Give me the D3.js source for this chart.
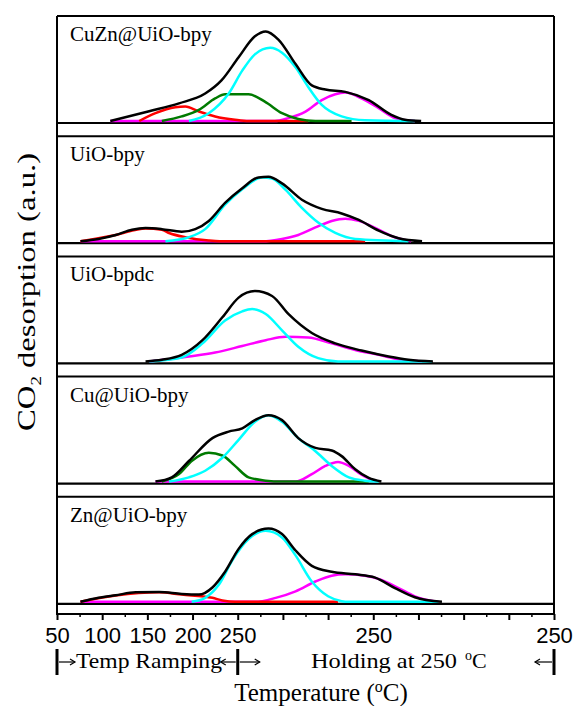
<!DOCTYPE html>
<html>
<head>
<meta charset="utf-8">
<script src="https://cdn.jsdelivr.net/npm/d3@7"></script>
<style>
  body { margin: 0; background: #fff; }
  svg { display: block; }
</style>
</head>
<body>
<svg id="chart" width="578" height="706"></svg>
<script>
// sample names, top to bottom
const samples = ["CuZn@UiO-bpy", "UiO-bpy", "UiO-bpdc", "Cu@UiO-bpy", "Zn@UiO-bpy"];

// x axis ticks (scale position) and labels
const majorTicks = [50, 100, 150, 200, 250, 300, 350, 400, 450, 500, 550, 600];
const majorLabels = ["50", "100", "150", "200", "250", "", "", "250", "", "", "", "250"];
const minorTicks = [75, 125, 175, 225, 275, 325, 375, 425, 475, 525, 575];

// CuZn@UiO-bpy
const cuznTotal = [[109,0],[152,9.4],[185,17],[214,26.4],[232,39],[251,61.3],[269,81.4],[281,86.1],[295,78.3],[314,54.7],[332,34.2],[347,30.2],[369,28],[395,20.1],[420,5.9],[435,1.2],[453,0]];
const cuznRed = [[141,0],[159,7.5],[181,13.2],[192,13.9],[207,9.1],[225,4.4],[247,1.2],[262,0],[328,0]];
const cuznGreen = [[166,0],[188,4.4],[207,10.7],[225,21.7],[236,25.7],[262,25.7],[280,18.6],[299,7.5],[317,1.9],[336,0],[376,0]];
const cuznCyan = [[196,0],[218,7.5],[240,26.4],[255,48.4],[269,64.1],[286,70.4],[299,65.7],[314,51.6],[328,32.7],[343,15.4],[365,4.4],[391,0.7],[446,0]];
const cuznMagenta = [[109,0],[291,0],[306,2.8],[325,9.1],[343,20.1],[358,25.7],[369,27.3],[387,21.7],[406,12.3],[424,2.8],[446,0]];

// UiO-bpy
const bpyTotal = [[76,0],[96,2.2],[115,6],[133,11],[148,12.6],[166,11.6],[188,9.1],[203,11.6],[218,19.5],[236,36.8],[255,50.9],[273,61.3],[284,61.9],[299,55.6],[321,39.9],[343,31.1],[365,26.7],[384,20.4],[406,10.1],[428,2.8],[454,0]];
const bpyRed = [[76,0],[115,6],[148,12.3],[166,11],[174,7.9],[192,3.8],[218,0.6],[230,0],[391,0]];
const bpyCyan = [[170,0],[196,3.8],[214,11.6],[236,35.2],[255,50],[277,61.3],[288,60.3],[303,49.3],[321,32],[339,17.9],[358,7.9],[380,2.2],[439,0]];
const bpyMagenta = [[76,0],[277,0],[299,2.2],[317,6],[336,13.2],[354,19.5],[369,21.7],[384,19.5],[406,11],[424,3.8],[442,0]];

// UiO-bpdc
const bpdcTotal = [[148,0],[166,1.6],[188,6.3],[211,20.4],[233,42.4],[251,61.3],[269,67.6],[288,62.9],[306,45.6],[332,27.3],[358,17.3],[387,10.4],[417,4.7],[439,1.6],[466,0]];
const bpdcCyan = [[152,0],[188,3.8],[211,17.3],[236,39.3],[255,48.1],[266,50.3],[281,45.6],[299,29.9],[317,14.1],[339,3.1],[361,0],[465,0]];
const bpdcMagenta = [[152,0],[196,4.7],[225,8.5],[255,14.8],[281,20.4],[303,23.6],[328,22.9],[354,17.3],[380,11],[406,6.3],[431,1.6],[454,0]];

// Cu@UiO-bpy
const cuTotal = [[159,0],[177,4.1],[196,19.8],[222,41.8],[240,48.1],[255,51.2],[269,59.1],[284,63.8],[299,59.1],[317,41.8],[336,32.4],[354,29.9],[365,24.5],[380,11.9],[395,3.5],[409,0]];
const cuGreen = [[166,0],[185,7.2],[199,19.8],[218,27.7],[233,25.1],[247,15.1],[262,4.1],[281,0.9],[299,0],[395,0]];
const cuCyan = [[174,0],[196,4.1],[214,10.4],[233,22.9],[251,40.2],[269,57.5],[284,63.8],[299,57.5],[317,41.8],[336,29.2],[354,15.1],[373,4.1],[391,0.9],[406,0]];
const cuMagenta = [[159,0],[314,0],[332,7.2],[347,15.1],[361,18.9],[373,15.1],[387,6.6],[402,0]];

// Zn@UiO-bpy
const znTotal = [[76,0],[96,3.8],[115,6.3],[137,9.1],[163,9.4],[188,7.5],[207,6.9],[222,13.8],[236,28.9],[251,50.9],[266,65.1],[284,70.4],[299,65.1],[314,49.3],[332,34.6],[354,28.9],[380,26.4],[402,23.3],[424,13.2],[446,4.4],[476,0]];
const znRed = [[76,0],[115,6],[163,9.1],[188,6.9],[222,3.8],[233,1.3],[247,0],[361,0]];
const znCyan = [[199,0],[214,3.8],[229,16.3],[244,39.9],[262,60.3],[281,68.2],[299,61.9],[314,44.6],[332,19.5],[350,5.3],[365,0.6],[373,0],[472,0]];
const znMagenta = [[76,0],[269,0],[292,3.8],[314,10.1],[336,19.5],[354,25.1],[369,26.4],[391,25.1],[409,21.1],[428,13.2],[446,5.3],[472,0]];

const colors = { total: "#000000", red: "#ff0000", green: "#007a00", cyan: "#00ffff", magenta: "#ff00ff" };

// draw order: components first, total on top
const panelSeries = [
  [["magenta", cuznMagenta], ["red", cuznRed], ["green", cuznGreen], ["cyan", cuznCyan], ["total", cuznTotal]],
  [["magenta", bpyMagenta], ["red", bpyRed], ["cyan", bpyCyan], ["total", bpyTotal]],
  [["magenta", bpdcMagenta], ["cyan", bpdcCyan], ["total", bpdcTotal]],
  [["magenta", cuMagenta], ["green", cuGreen], ["cyan", cuCyan], ["total", cuTotal]],
  [["magenta", znMagenta], ["red", znRed], ["cyan", znCyan], ["total", znTotal]]
];

const svg = d3.select("#chart");
const frameL = 57, frameR = 554, frameT = 16, axisY = 614;
const firstBase = 123, step = 120.2, panelH = 107, plotH = 104;

const x = d3.scaleLinear().domain([50, 600]).range([frameL, frameR]);

// outer frame sides and bottom axis line
svg.append("line").attr("x1", frameL).attr("x2", frameL).attr("y1", frameT).attr("y2", axisY)
  .attr("stroke", "#000").attr("stroke-width", 2);
svg.append("line").attr("x1", frameR).attr("x2", frameR).attr("y1", frameT).attr("y2", axisY)
  .attr("stroke", "#000").attr("stroke-width", 2);
svg.append("line").attr("x1", frameL - 1).attr("x2", frameR + 1).attr("y1", axisY).attr("y2", axisY)
  .attr("stroke", "#000").attr("stroke-width", 2);

samples.forEach((name, i) => {
  const base = firstBase + i * step;
  // curves sit just on top of the panel's bottom border
  const y = d3.scaleLinear().domain([0, 100]).range([base - 2, base - 2 - plotH]);
  const g = svg.append("g");

  // panel border lines
  g.append("line")
    .attr("x1", frameL).attr("x2", frameR)
    .attr("y1", base).attr("y2", base)
    .attr("stroke", "#000").attr("stroke-width", 2.2);
  g.append("line")
    .attr("x1", frameL).attr("x2", frameR)
    .attr("y1", base - panelH).attr("y2", base - panelH)
    .attr("stroke", "#000").attr("stroke-width", 2);

  const line = d3.line()
    .x(d => x(d[0]))
    .y(d => y(d[1]))
    .curve(d3.curveMonotoneX);

  panelSeries[i].forEach(([key, pts]) => {
    g.append("path")
      .attr("d", line(pts))
      .attr("fill", "none")
      .attr("stroke", colors[key])
      .attr("stroke-width", 2.5)
      .attr("stroke-linejoin", "round");
  });

  g.append("text")
    .attr("x", frameL + 13)
    .attr("y", base - panelH + 25)
    .attr("font-family", "Liberation Serif, serif")
    .attr("font-size", 21)
    .text(name);
});

// x axis
const xAxis = svg.append("g")
  .attr("transform", `translate(0,${axisY})`)
  .call(d3.axisBottom(x).tickValues(majorTicks).tickFormat((d, i) => majorLabels[i]).tickSize(6).tickPadding(7));
xAxis.select(".domain").remove();
xAxis.selectAll(".tick line").attr("stroke", "#000").attr("stroke-width", 2);
xAxis.selectAll(".tick text")
  .attr("font-family", "Liberation Sans, Arial, sans-serif")
  .attr("font-size", 22)
  .attr("fill", "#000");

const xMinor = svg.append("g")
  .attr("transform", `translate(0,${axisY})`)
  .call(d3.axisBottom(x).tickValues(minorTicks).tickFormat("").tickSize(3));
xMinor.select(".domain").remove();
xMinor.selectAll(".tick line").attr("stroke", "#000").attr("stroke-width", 1.5);

// ramping / holding annotation
const annY = 662;
const ann = svg.append("g");
[50, 250, 600].forEach(v => {
  ann.append("line")
    .attr("x1", x(v)).attr("x2", x(v))
    .attr("y1", annY - 13).attr("y2", annY + 13)
    .attr("stroke", "#000").attr("stroke-width", 3);
});

function arrow(x1, x2) {
  const dir = Math.sign(x2 - x1);
  ann.append("line")
    .attr("x1", x1).attr("x2", x2)
    .attr("y1", annY).attr("y2", annY)
    .attr("stroke", "#000").attr("stroke-width", 1.2);
  ann.append("path")
    .attr("d", `M${x2 - dir * 5},${annY - 3}L${x2},${annY}L${x2 - dir * 5},${annY + 3}`)
    .attr("fill", "none")
    .attr("stroke", "#000").attr("stroke-width", 1.2);
}
arrow(x(50) + 2, x(50) + 18);
arrow(x(250) - 2, x(250) - 17);
arrow(x(250) + 2, x(250) + 22);
arrow(x(600) - 2, x(600) - 19);

ann.append("text")
  .attr("x", x(50) + 19)
  .attr("y", annY + 6)
  .attr("font-family", "Liberation Serif, serif")
  .attr("font-size", 22)
  .attr("textLength", 146)
  .attr("lengthAdjust", "spacingAndGlyphs")
  .text("Temp Ramping");

const hold = ann.append("text")
  .attr("x", 311)
  .attr("y", annY + 6)
  .attr("font-family", "Liberation Serif, serif")
  .attr("font-size", 22);
hold.append("tspan").attr("textLength", 146).attr("lengthAdjust", "spacingAndGlyphs").text("Holding at 250");
hold.append("tspan").attr("x", 465).attr("font-size", 14).attr("dy", -8).text("o");
hold.append("tspan").attr("dy", 8).text("C");

// axis titles
const xt = svg.append("text")
  .attr("x", 321)
  .attr("y", 701)
  .attr("text-anchor", "middle")
  .attr("font-family", "Liberation Serif, serif")
  .attr("font-size", 25);
xt.append("tspan").text("Temperature (");
xt.append("tspan").attr("font-size", 16).attr("dy", -9).text("o");
xt.append("tspan").attr("dy", 9).text("C)");

const yt = svg.append("text")
  .attr("transform", "translate(35,292) rotate(-90)")
  .attr("text-anchor", "middle")
  .attr("font-family", "Liberation Serif, serif")
  .attr("font-size", 26)
  .attr("textLength", 278)
  .attr("lengthAdjust", "spacingAndGlyphs");
yt.append("tspan").text("CO");
yt.append("tspan").attr("font-size", 15).attr("dy", 6).text("2");
yt.append("tspan").attr("dy", -6).text(" desorption (a.u.)");
</script>
</body>
</html>
